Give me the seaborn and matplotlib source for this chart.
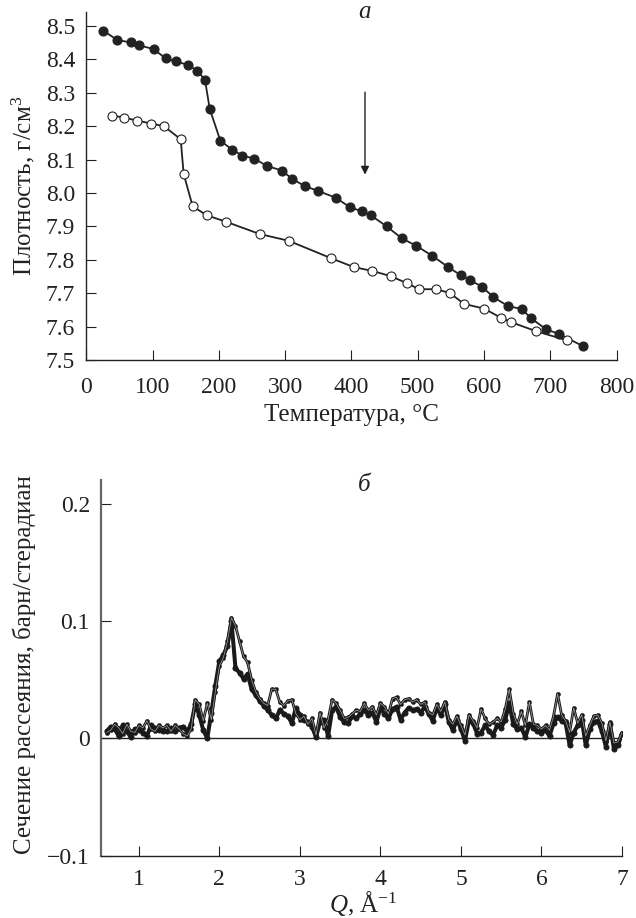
import matplotlib
matplotlib.use("Agg")
import matplotlib.pyplot as plt
import pandas as pd
import seaborn as sns

# panel a: density vs temperature
temp_filled = [25.7, 46.8, 66.9, 80, 101.6, 119.7, 135.8, 153.9, 167.5, 179.1, 186.2, 202.2, 219.8, 235.4,
               253.5, 272.6, 295.7, 309.9, 329.5, 350, 376.3, 397.4, 415.5, 429.5, 453.2, 476.3, 497.9,
               522, 546.2, 564.9, 579, 597.6, 614.2, 636.8, 656.9, 670.5, 693.6, 713.2, 749.9]
dens_filled = [8.486, 8.458, 8.451, 8.442, 8.431, 8.403, 8.394, 8.383, 8.366, 8.339, 8.252, 8.157, 8.130, 8.112,
               8.103, 8.081, 8.067, 8.043, 8.021, 8.006, 7.986, 7.958, 7.945, 7.933, 7.900, 7.864, 7.842,
               7.812, 7.778, 7.754, 7.739, 7.719, 7.688, 7.661, 7.653, 7.626, 7.592, 7.578, 7.541]
temp_open = [38.3, 56.9, 76, 98.1, 117.2, 142.4, 146.9, 160.5, 182.1, 210.8, 262, 305.4, 369,
             403.9, 431, 459.7, 483.4, 502.5, 527.1, 548.3, 569.9, 600, 625.2, 641.4, 679, 725]
dens_open = [8.232, 8.226, 8.217, 8.208, 8.200, 8.161, 8.057, 7.960, 7.933, 7.914, 7.877, 7.857, 7.805,
             7.778, 7.767, 7.751, 7.730, 7.712, 7.712, 7.701, 7.668, 7.654, 7.627, 7.613, 7.586, 7.559]

# panel b: scattering cross section
q_values = [0.60, 0.65, 0.70, 0.75, 0.80, 0.85, 0.90, 0.95, 1.00, 1.05, 1.10, 1.15, 1.20, 1.25, 1.30, 1.35,
            1.40, 1.45, 1.50, 1.55, 1.60, 1.65, 1.70, 1.75, 1.80, 1.85, 1.90, 1.95, 2.00, 2.05, 2.10, 2.15,
            2.20, 2.25, 2.30, 2.35, 2.40, 2.45, 2.50, 2.55, 2.60, 2.65, 2.70, 2.75, 2.80, 2.85, 2.90, 2.95,
            3.00, 3.05, 3.10, 3.15, 3.20, 3.25, 3.30, 3.35, 3.40, 3.45, 3.50, 3.55, 3.60, 3.65, 3.70, 3.75,
            3.80, 3.85, 3.90, 3.95, 4.00, 4.05, 4.10, 4.15, 4.20, 4.25, 4.30, 4.35, 4.40, 4.45, 4.50, 4.55,
            4.60, 4.65, 4.70, 4.75, 4.80, 4.85, 4.90, 4.95, 5.00, 5.05, 5.10, 5.15, 5.20, 5.25, 5.30, 5.35,
            5.40, 5.45, 5.50, 5.55, 5.60, 5.65, 5.70, 5.75, 5.80, 5.85, 5.90, 5.95, 6.00, 6.05, 6.10, 6.15,
            6.20, 6.25, 6.30, 6.35, 6.40, 6.45, 6.50, 6.55, 6.60, 6.65, 6.70, 6.75, 6.80, 6.85, 6.90, 6.95,
            7.00]
sigma_thick = [.006, .010, .008, .002, .011, .006, .001, .008, .007, .005, .002, .011, .009, .007, .006, .006,
               .009, .006, .009, .010, .006, .012, .029, .020, .007, .000, .022, .045, .066, .071, .079, .100,
               .060, .056, .051, .055, .042, .037, .032, .028, .024, .020, .017, .024, .021, .019, .013, .026,
               .020, .016, .014, .010, .001, .014, .016, .002, .024, .027, .018, .014, .013, .019, .017, .021,
               .024, .020, .022, .014, .026, .021, .017, .025, .027, .016, .022, .026, .024, .025, .022, .027,
               .021, .015, .026, .020, .029, .014, .007, .016, .008, -.002, .016, .013, .004, .005, .011, .006,
               .003, .011, .009, .016, .030, .012, .008, .009, .001, .012, .009, .006, .005, .007, .002, .013,
               .018, .015, .013, -.006, .005, .011, .016, -.006, .008, .014, .015, .006, -.007, .012, -.009, -.006,
               .004]
sigma_thin = [.005, .007, .012, .009, .004, .012, .006, .005, .011, .009, .015, .008, .006, .011, .009, .011,
              .006, .011, .008, .004, .002, .008, .033, .029, .015, .030, .016, .040, .062, .069, .083, .103,
              .096, .083, .070, .065, .050, .040, .034, .030, .028, .042, .042, .031, .028, .032, .033, .021,
              .016, .019, .012, .017, .003, .022, .009, .016, .033, .030, .024, .017, .018, .021, .024, .023,
              .030, .024, .027, .020, .030, .027, .021, .034, .035, .029, .033, .034, .031, .033, .029, .031,
              .022, .020, .029, .023, .031, .016, .012, .019, .011, .003, .020, .015, .009, .025, .017, .012,
              .014, .017, .014, .025, .042, .021, .012, .023, .011, .031, .012, .011, .008, .011, .007, .019,
              .038, .020, .015, .005, .026, .013, .020, .002, .011, .019, .020, .013, -.002, .014, -.004, -.003,
              .005]

temp_ticks = [0, 100, 200, 300, 400, 500, 600, 700, 800]
dens_ticks = [7.5, 7.6, 7.7, 7.8, 7.9, 8.0, 8.1, 8.2, 8.3, 8.4, 8.5]
q_ticks = [1, 2, 3, 4, 5, 6, 7]
sigma_ticks = [-0.1, 0, 0.1, 0.2]
sigma_labels = ["\u22120.1", "0", "0.1", "0.2"]

INK = "#222222"
W, H = 636, 918
FS = 18

sns.set_theme(style="ticks")
plt.rcParams["font.family"] = ["Liberation Serif"]
plt.rcParams["mathtext.fontset"] = "custom"
plt.rcParams["mathtext.rm"] = "Liberation Serif"
plt.rcParams["mathtext.it"] = "Liberation Serif:italic"
plt.rcParams["text.color"] = INK


def box(left, right, top, bottom):
    return [left / W, 1 - bottom / H, (right - left) / W, (bottom - top) / H]


def style_axes(ax, left_width, left_color, x_pad):
    sns.despine(ax=ax)
    ax.spines["left"].set_linewidth(left_width)
    ax.spines["left"].set_color(left_color)
    ax.spines["bottom"].set_linewidth(1.0)
    ax.spines["bottom"].set_color(INK)
    ax.tick_params(direction="in", length=7, width=0.8, color=INK, labelcolor=INK, labelsize=17)
    ax.tick_params(axis="y", pad=8)
    ax.tick_params(axis="x", pad=x_pad)
    ax.grid(False)


fig = plt.figure(figsize=(W / 100, H / 100), dpi=100)
ax1 = fig.add_axes(box(86.3, 616.5, 12, 360))
ax2 = fig.add_axes(box(101, 622, 480, 855.5))

filled = pd.DataFrame({"temp": temp_filled, "dens": dens_filled})
hollow = pd.DataFrame({"temp": temp_open, "dens": dens_open})
sns.lineplot(data=filled, x="temp", y="dens", ax=ax1, sort=False, estimator=None, color=INK, lw=1.3,
             marker="o", ms=6.5, mfc=INK, mec=INK, mew=0.8)
sns.lineplot(data=hollow, x="temp", y="dens", ax=ax1, sort=False, estimator=None, color=INK, lw=1.3,
             marker="o", ms=6.5, mfc="white", mec=INK, mew=0.8)
ax1.set_xlim(0, 800)
ax1.set_ylim(7.5, 8.542)
ax1.set_xticks(temp_ticks)
ax1.set_yticks(dens_ticks)
ax1.set_yticklabels([f"{v:.1f}" for v in dens_ticks])
style_axes(ax1, 1.0, INK, 12)
ax1.set_xlabel("Температура, °C", fontsize=FS, color=INK)
ax1.set_ylabel("Плотность, г/см$^3$", fontsize=FS, color=INK)
ax1.xaxis.set_label_coords((351 - 86.3) / 530.2, -(404 - 360) / 348)
ax1.yaxis.set_label_coords((37 - 86.3) / 530.2, (360 - 186) / 348)
ax1.text(420, 8.541, "а", style="italic", fontsize=FS, ha="center", va="center")
ax1.annotate("", xy=(420.5, 8.055), xytext=(420.5, 8.302),
             arrowprops=dict(arrowstyle="-|>", color=INK, lw=1.0, mutation_scale=12, shrinkA=0, shrinkB=0))

spectra = pd.DataFrame({"q": q_values, "thick": sigma_thick, "thin": sigma_thin})
ax2.axhline(0, color=INK, lw=1.0, zorder=1)
sns.lineplot(data=spectra, x="q", y="thick", ax=ax2, estimator=None, color="#1a1a1a", lw=2.9,
             marker="o", ms=3.8, mec="#1a1a1a", mew=0.5, zorder=2)
sns.lineplot(data=spectra, x="q", y="thin", ax=ax2, estimator=None, color="#1a1a1a", lw=2.0,
             marker="o", ms=3, mec="#1a1a1a", mew=0.3, zorder=3)
sns.lineplot(data=spectra, x="q", y="thin", ax=ax2, estimator=None, color="#a8a8a8", lw=0.5, zorder=4)
ax2.set_xlim(0.53, 7)
ax2.set_ylim(-0.1, 0.2206)
ax2.set_xticks(q_ticks)
ax2.set_yticks(sigma_ticks)
ax2.set_yticklabels(sigma_labels)
style_axes(ax2, 1.6, "#666666", 9.5)
ax2.set_xlabel("$\\mathit{Q}$, Å$^{\\mathrm{\u2212}1}$", fontsize=FS, color=INK)
ax2.set_ylabel("Сечение рассеяния, барн/стерадиан", fontsize=FS, color=INK)
ax2.xaxis.set_label_coords((363 - 101) / 521, -(889.5 - 855.5) / 375.5)
ax2.yaxis.set_label_coords((36 - 101) / 521, (855.5 - 665) / 375.5)
ax2.text(3.8, 0.2206 - (485 - 480) / 1212, "б", style="italic", fontsize=FS, ha="center", va="center")

fig.savefig("out.png", dpi=100)
